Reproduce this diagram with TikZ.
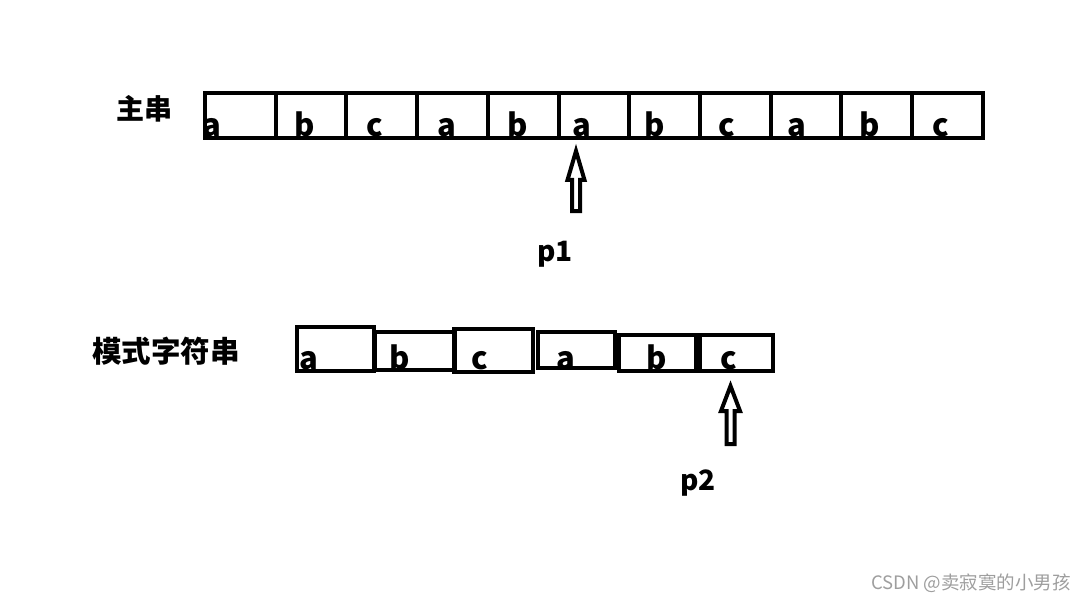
\documentclass[tikz,border=0pt]{standalone}
\usepackage{fontspec}
\setmainfont{Noto Sans CJK SC}
\usetikzlibrary{positioning}

\begin{document}
\begin{tikzpicture}[x=1pt,y=-1pt,
    cell/.style={draw,line width=4pt,outer sep=0pt,inner sep=0pt,minimum width=70.7pt,minimum height=45pt},
    chr/.style={font=\bfseries\fontsize{31}{31}\selectfont,anchor=base,inner sep=0pt},
    lbl/.style={font=\bfseries\fontsize{28}{28}\selectfont,inner sep=0pt},
    hollow/.style={line width=4pt,line join=miter}]
    \useasboundingbox (0,0) rectangle (1086,604);
    % main string
    \node[lbl] (mainlbl) at (144,109) {主串};
    \foreach \ch [count=\i] in {a,b,c,a,b,a,b,c,a,b,c}
      \node[cell] (m\i) at ({205+(\i-0.5)*70.7},115.5) {};
    \foreach \ch/\lx [count=\i] in {a/212,b/305,c/375,a/447,b/518,a/582,b/655,c/727,a/797,b/870,c/941}
      \node[chr] (mc\i) at (\lx,137) {\ch};
    % pattern string
    \node[lbl,font=\bfseries\fontsize{29.5}{29.5}\selectfont] (patlbl) at (166,351) {模式字符串};
    \foreach \l/\r/\t/\b [count=\i] in {297/374/327/370.5,374.5/454.5/331.5/369.5,453.5/533/329/371.5,
        538/614.5/331.5/367.5,619/695.5/334.5/370.5,699.5/772.5/335/370.5}
      \node[cell,minimum width={\r-\l},minimum height={\b-\t}] (pk\i) at ({(\l+\r)/2},{(\t+\b)/2}) {};
    \foreach \ch/\lx [count=\i] in {a/309,b/400,c/480,a/566,b/657,c/729}
      \node[chr] (pc\i) at (\lx,369) {\ch};
    % pointers
    \coordinate (tip1) at (576,151);
    \draw[hollow] (tip1) -- ++(8.5,29) -- ++(-4.5,0) -- ++(0,31) -- ++(-8,0) -- ++(0,-31) -- ++(-4.5,0) -- cycle;
    \node[lbl] (p1) at (555,254) {p1};
    \coordinate (tip2) at (730.5,386);
    \draw[hollow] (tip2) -- ++(9.5,25) -- ++(-5.5,0) -- ++(0,33) -- ++(-8,0) -- ++(0,-33) -- ++(-5.5,0) -- cycle;
    \node[lbl] (p2) at (698,483) {p2};
    % watermark
    \node[anchor=east,inner sep=0pt,text=black!38,font=\fontsize{18.5}{18.5}\selectfont] (mark) at (1071,583) {CSDN @卖寂寞的小男孩};
  \end{tikzpicture}
\end{document}
